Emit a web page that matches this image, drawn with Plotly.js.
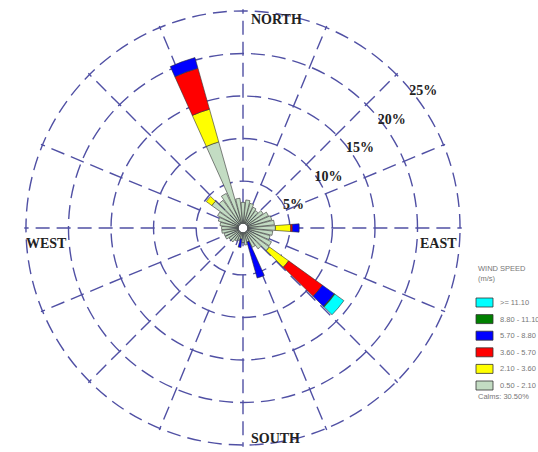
<!DOCTYPE html>
<html><head><meta charset="utf-8">
<script src="https://cdn.plot.ly/plotly-3.0.1.min.js"></script>
<style>html,body{margin:0;padding:0;background:#fff;}#chart{width:538px;height:452px;}</style>
</head><body><div id="chart"></div>
<script>
// ---- data ----
const directions = [10,20,30,40,50,60,70,80,90,100,110,120,130,140,150,160,170,180,
                    190,200,210,220,230,240,250,260,270,280,290,300,310,320,330,340,350,360];
const binLabels = ['0.50 - 2.10','2.10 - 3.60','3.60 - 5.70','5.70 - 8.80','8.80 - 11.10','>= 11.10'];
const binColors = ['#c3dcc3','#ffff00','#ff0000','#0000ff','#008000','#00ffff'];
const compassLabels = ['NORTH','EAST','SOUTH','WEST'];
const radialTicks = [5,10,15,20,25];
const radialTickText = ['5%','10%','15%','20%','25%'];
const legendTitle = 'WIND SPEED';
const legendUnit = '(m/s)';
const calmsText = 'Calms: 30.50%';
// frequency (%) per direction for each wind speed class
const speed_050_210 = [2.8,2.5,2.2,2.0,2.4,2.8,3.0,3.2,3.3,3.0,2.8,3.2,3.3,2.5,2.0,1.2,1.5,1.2,
                       0.8,1.0,1.2,1.5,1.5,1.8,1.8,2.0,2.0,2.2,2.5,2.8,4.0,3.5,4.0,10.0,3.0,2.5];
const speed_210_360 = [0,0,0,0,0,0,0,0,1.8,0,0,0,2.8,0,0,0,0,0,
                       0,0,0,0,0,0,0,0,0,0,0,0,0.8,0,0,4.0,0,0];
const speed_360_570 = [0,0,0,0,0,0,0,0,0.2,0,0,0,4.9,0,0,0,0,0,
                       0,0,0,0,0,0,0,0,0,0,0,0,0,0,0,5.0,0,0];
const speed_570_880 = [0,0,0,0,0,0,0,0,0.8,0,0,0,1.7,0,0,4.4,0,0,
                       1.0,0,0,0,0,0,0,0,0,0,0,0,0,0,0,1.3,0,0];
const speed_880_1110 = [0,0,0,0,0,0,0,0,0,0,0,0,0.1,0,0,0,0,0,
                        0,0,0,0,0,0,0,0,0,0,0,0,0,0,0,0,0,0];
const speed_ge_1110 = [0,0,0,0,0,0,0,0,0,0,0,0,1.3,0,0,0,0,0,
                       0,0,0,0,0,0,0,0,0,0,0,0,0,0,0,0,0,0];
const speedSeries = [speed_050_210, speed_210_360, speed_360_570, speed_570_880, speed_880_1110, speed_ge_1110];

// ---- traces ----
const traces = speedSeries.map((vals, i) => ({
  type: 'barpolar',
  r: vals,
  theta: directions,
  width: 8.5,
  name: binLabels[i],
  showlegend: false,
  marker: {color: binColors[i], line: {color: '#333', width: 0.6}}
}));

// ---- layout ----
const W = 538, H = 452;
const cx = 243, cy = 228, R = 217;
const gridCol = '#5050a4';
const px = x => x / W, py = y => 1 - y / H;
const serif = {family: 'Liberation Serif, Times New Roman, serif', size: 14, color: '#222', weight: 'bold'};

const annotations = [
  {text: compassLabels[0], x: px(249), y: py(20), xanchor: 'left', yanchor: 'middle'},
  {text: compassLabels[1], x: px(459), y: py(243), xanchor: 'right', yanchor: 'middle'},
  {text: compassLabels[2], x: px(249), y: py(438), xanchor: 'left', yanchor: 'middle'},
  {text: compassLabels[3], x: px(24), y: py(243), xanchor: 'left', yanchor: 'middle'}
].map(a => Object.assign(a, {xref: 'paper', yref: 'paper', showarrow: false, font: serif}));

const legFont = {family: 'Liberation Sans, Arial, sans-serif', size: 7.5, color: '#777'};
const shapes = [];
const legX = 476, legTop = 298, legStep = 16.6;
annotations.push({text: legendTitle, x: px(legX), y: py(268), xanchor: 'left', yanchor: 'middle'});
annotations.push({text: legendUnit, x: px(legX), y: py(278), xanchor: 'left', yanchor: 'middle'});
for (let k = 0; k < binLabels.length; k++) {
  const i = binLabels.length - 1 - k;
  const y0 = legTop + k * legStep;
  shapes.push({type: 'rect', xref: 'paper', yref: 'paper', x0: px(legX), x1: px(legX + 17),
    y0: py(y0), y1: py(y0 + 9), fillcolor: binColors[i], line: {color: '#333', width: 0.8}});
  annotations.push({text: binLabels[i], x: px(legX + 22), y: py(y0 + 4.5), xanchor: 'left', yanchor: 'middle'});
}
annotations.push({text: calmsText, x: px(legX), y: py(legTop + 6 * legStep - 1), xanchor: 'left', yanchor: 'middle'});
for (let j = 4; j < annotations.length; j++) {
  Object.assign(annotations[j], {xref: 'paper', yref: 'paper', showarrow: false, font: legFont});
}

const rMax = 25.2;
const Rd = R * rMax / 25;
const layout = {
  width: W, height: H,
  margin: {l: 0, r: 0, t: 0, b: 0, autoexpand: false},
  paper_bgcolor: '#fff',
  showlegend: false,
  polar: {
    domain: {x: [px(cx - Rd), px(cx + Rd)], y: [py(cy + Rd), py(cy - Rd)]},
    bgcolor: 'rgba(0,0,0,0)',
    hole: 0.02,
    barmode: 'stack',
    bargap: 0,
    radialaxis: {
      range: [0, rMax], tickmode: 'array', tickvals: radialTicks, ticktext: radialTickText,
      angle: 42, tickangle: 42, side: 'clockwise',
      showline: false, ticks: '', gridcolor: gridCol, griddash: '14px,7px', gridwidth: 1.4,
      tickfont: {family: 'Liberation Serif, Times New Roman, serif', size: 14, color: '#222', weight: 'bold'}
    },
    angularaxis: {
      rotation: 90, direction: 'clockwise', thetaunit: 'degrees', tick0: 0, dtick: 22.5,
      showticklabels: false, ticks: '', showline: false,
      gridcolor: gridCol, griddash: '14px,7px', gridwidth: 1.4
    }
  },
  shapes: shapes,
  annotations: annotations
};

Plotly.newPlot('chart', traces, layout, {staticPlot: true, displayModeBar: false});
</script>
</body></html>
